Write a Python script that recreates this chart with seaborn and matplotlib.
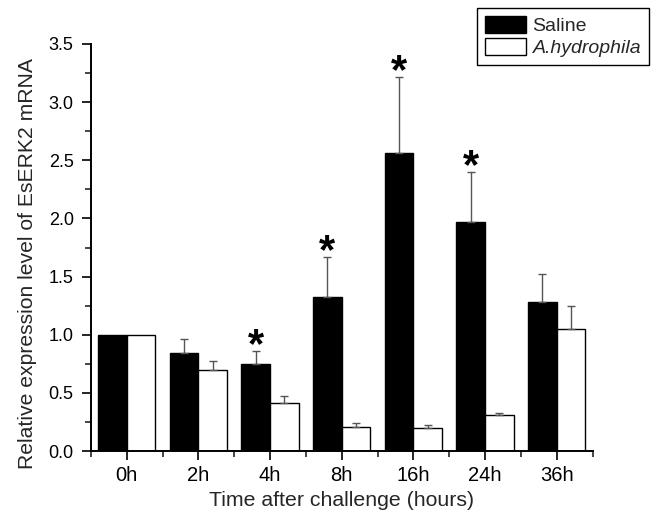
import numpy as np
import pandas as pd
import matplotlib
matplotlib.use("Agg")
import matplotlib.pyplot as plt
from matplotlib.ticker import MultipleLocator, FixedLocator, FormatStrFormatter
from matplotlib.patches import Patch
import seaborn as sns

times = ["0h", "2h", "4h", "8h", "16h", "24h", "36h"]
groups = ["Saline", "A.hydrophila"]
saline = [1.0, 0.845, 0.748, 1.327, 2.565, 1.97, 1.284]
saline_err = [0.0, 0.12, 0.115, 0.345, 0.655, 0.43, 0.24]
hydro = [1.0, 0.70, 0.415, 0.209, 0.198, 0.307, 1.046]
hydro_err = [0.0, 0.077, 0.058, 0.034, 0.028, 0.022, 0.204]
significant = ["4h", "8h", "16h", "24h"]

sns.set_style("ticks")
plt.rcParams['font.family'] = ['Liberation Sans', 'DejaVu Sans']

df = pd.DataFrame({
    "time": times * 2,
    "group": [groups[0]] * len(times) + [groups[1]] * len(times),
    "value": saline + hydro,
})

fig = plt.figure(figsize=(6.57, 5.13), dpi=100)
ax = fig.add_axes([91 / 657, 1 - 451 / 513, (592.5 - 91) / 657, (451 - 44) / 513])

sns.barplot(data=df, x="time", y="value", hue="group", order=times, hue_order=groups,
            palette=["black", "white"], edgecolor="black", linewidth=1.0,
            width=0.8, errorbar=None, ax=ax, legend=False)

# error bars (upward only)
n = len(times)
patches = ax.patches[:2 * n]
vals = saline + hydro
errs = saline_err + hydro_err
for p, v, e in zip(patches, vals, errs):
    if e <= 0:
        continue
    xc = p.get_x() + p.get_width() / 2
    ax.errorbar(xc, v, yerr=[[0], [e]], fmt="none", ecolor="#555555",
                elinewidth=1.0, capsize=3, capthick=1.0, zorder=1)

# significance stars
for i, t in enumerate(times):
    if t in significant:
        p = patches[i]
        xc = p.get_x() + p.get_width() / 2
        top = saline[i] + saline_err[i]
        ax.text(xc, top - 0.055, "*", ha="center", va="baseline", fontsize=30,
                fontweight="bold", color="black", zorder=5)

ax.set_xlim(-0.5, 6.5)
ax.set_ylim(0, 3.5)
ax.yaxis.set_major_locator(MultipleLocator(0.5))
ax.yaxis.set_minor_locator(MultipleLocator(0.25))
ax.yaxis.set_major_formatter(FormatStrFormatter("%.1f"))
ax.xaxis.set_minor_locator(FixedLocator(np.arange(-0.5, 7, 1.0)))
ax.tick_params(axis="both", which="major", direction="out", length=6.5, width=1.2,
               colors="black")
ax.tick_params(axis="both", which="minor", direction="out", length=4.5, width=1.2)
ax.tick_params(axis="x", which="major", labelsize=14.5, pad=4)
ax.tick_params(axis="y", which="major", labelsize=13, pad=6)
ax.set_xlabel("Time after challenge (hours)", fontsize=15.3, va="top")
ax.set_ylabel("Relative expression level of EsERK2 mRNA", fontsize=15.2)
ax.xaxis.set_label_coords(0.5, -0.0983)
ax.yaxis.set_label_coords(-0.107, 0.4607)

for s in ["top", "right"]:
    ax.spines[s].set_visible(False)
for s in ["left", "bottom"]:
    ax.spines[s].set_linewidth(1.4)
    ax.spines[s].set_color("black")

handles = [Patch(facecolor="black", edgecolor="black", label=groups[0]),
           Patch(facecolor="white", edgecolor="black", label=groups[1])]
leg = fig.legend(handles=handles, loc="upper right", bbox_to_anchor=(649 / 657, 1 - 8 / 513),
                 fancybox=False, framealpha=1, edgecolor="black", fontsize=14,
                 handlelength=2.1, handleheight=0.95, borderpad=0.4, labelspacing=0.15,
                 handletextpad=0.35, borderaxespad=0)
leg.get_frame().set_linewidth(1.0)
leg.get_texts()[1].set_fontstyle("italic")

fig.savefig("out.png", dpi=100)
